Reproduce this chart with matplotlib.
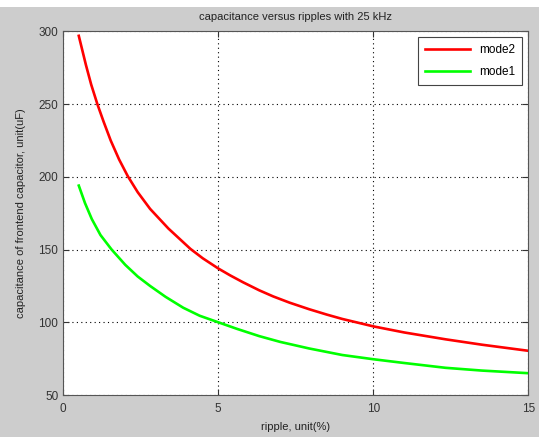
import matplotlib.pyplot as plt
from matplotlib.patches import Rectangle

# values
ripple_mode2 = [0.5, 0.73, 0.9, 1.1, 1.3, 1.53, 1.8, 2.08, 2.4, 2.8, 3.39, 4.1, 4.5, 5.0, 5.38,
                5.8, 6.32, 6.77, 7.3, 7.93, 8.5, 9.0, 10.0, 11.0, 12.33, 13.5, 15.0]
cap_mode2 = [297, 277, 263.5, 250, 238, 225, 212, 200.5, 189.5, 178, 164.5, 150.5, 144, 137, 132.3,
             127.5, 122, 117.8, 113.5, 109, 105.3, 102.3, 97.2, 93, 88.3, 84.6, 80.4]

ripple_mode1 = [0.5, 0.7, 0.92, 1.2, 1.56, 2.0, 2.4, 2.8, 3.3, 3.87, 4.4, 5.0, 5.6, 6.32,
                7.0, 7.93, 9.0, 10.0, 11.0, 12.33, 13.5, 15.0]
cap_mode1 = [194, 182, 171, 160, 150, 139.5, 131.5, 125, 117.5, 110, 104.5, 100, 95.5, 90.5,
             86.5, 82, 77.5, 74.6, 72, 68.7, 66.8, 65]

xticks = [0, 5, 10, 15]
yticks = [50, 100, 150, 200, 250, 300]

plt.rcParams['font.family'] = ['Liberation Sans', 'DejaVu Sans']

fig = plt.figure(figsize=(5.39, 4.37), dpi=100, facecolor='#cdcdcd')
# thin white strip at the top of the screenshot
fig.patches.append(Rectangle((0, 0.985), 1, 0.015, transform=fig.transFigure,
                             facecolor='white', edgecolor='none', zorder=0))

ax = fig.add_axes([0.1174, 0.0961, 0.8628, 0.8319])
ax.plot(ripple_mode2, cap_mode2, color='#ff0000', lw=1.9, label='mode2')
ax.plot(ripple_mode1, cap_mode1, color='#00ff00', lw=1.9, label='mode1')

ax.set_xlim(0, 15)
ax.set_ylim(50, 300)
ax.set_xticks(xticks)
ax.set_yticks(yticks)
ax.grid(True, color='black', linestyle=(0, (1, 3)), linewidth=0.8)
ax.tick_params(direction='in', top=True, right=True, labelsize=8.5,
               colors='#333333', length=4)
ax.tick_params(axis='x', pad=6)
for s in ax.spines.values():
    s.set_color('#555555')

ax.set_title('capacitance versus ripples with 25 kHz', fontsize=8, color='#222222', pad=8)
ax.set_xlabel('ripple, unit(%)', fontsize=8, color='#222222', labelpad=5)
ax.set_ylabel('capacitance of frontend capacitor, unit(uF)', fontsize=8, color='#222222', labelpad=9)

leg = ax.legend(loc='upper right', fontsize=8.5, fancybox=False, framealpha=1,
                edgecolor='#444444', handlelength=3.8, labelspacing=0.8,
                borderpad=0.6, borderaxespad=0.5)
leg.get_frame().set_linewidth(0.8)

fig.savefig('out.png', dpi=100, facecolor=fig.get_facecolor())
